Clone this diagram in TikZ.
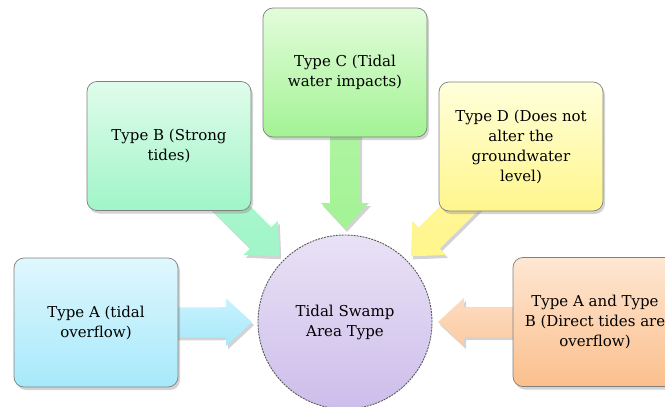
\documentclass[tikz,border=0pt]{standalone}
\usepackage{fontspec}
\setmainfont{DejaVu Serif}
\usetikzlibrary{calc,shadows}
\pgfdeclarelayer{back}
\pgfsetlayers{back,main}

\definecolor{atop}{HTML}{E0F7FD}\definecolor{abot}{HTML}{A6E9FB}
\definecolor{btop}{HTML}{E0FCEB}\definecolor{bbot}{HTML}{A0F5C8}
\definecolor{ctop}{HTML}{E3FCDB}\definecolor{cbot}{HTML}{A3F394}
\definecolor{dtop}{HTML}{FFFFDB}\definecolor{dbot}{HTML}{FFF68C}
\definecolor{etop}{HTML}{FEE7D3}\definecolor{ebot}{HTML}{FBBF8C}
\definecolor{htop}{HTML}{E9E2F5}\definecolor{hbot}{HTML}{CDBDEB}

% block arrow from a box towards the hub, tip stops short of the circle
\newcommand{\fatarrow}[4]{%
  \coordinate (s) at (#1.center);
  \coordinate (t) at ($(#2.center)!93pt!(#1.center)$);
  \coordinate (h) at ($(t)!26pt!(s)$);
  \path[top color=#3,bottom color=#4,softshadow]
    ($(s)!15pt!90:(t)$) -- ($(h)!15pt!90:(t)$) -- ($(h)!24pt!90:(t)$)
    -- (t) -- ($(h)!24pt!-90:(t)$) -- ($(h)!15pt!-90:(t)$)
    -- ($(s)!15pt!-90:(t)$) -- cycle;
}

\begin{document}
\begin{tikzpicture}[x=1pt,y=-1pt,
  every node/.style={align=center,text=black,font=\fontsize{15}{20}\selectfont},
  softshadow/.style={drop shadow={shadow xshift=2pt,shadow yshift=-3pt,opacity=.35}},
  box/.style={draw=black!50,line width=.7pt,rounded corners=10pt,
    minimum width=164pt,minimum height=129pt,inner sep=0pt,softshadow},
  hub/.style={circle,draw=black!65,line width=.9pt,dash pattern=on 2pt off 1pt,
    minimum size=174pt,inner sep=0pt,top color=htop,bottom color=hbot}]
\useasboundingbox (0,0) rectangle (665,407);

\node[box,top color=atop,bottom color=abot] (ta) at (96,322.5) {Type A (tidal\\overflow)};
\node[box,top color=btop,bottom color=bbot] (tb) at (169,146) {Type B (Strong\\tides)};
\node[box,top color=ctop,bottom color=cbot] (tc) at (345,72.5) {Type C (Tidal\\water impacts)};
\node[box,top color=dtop,bottom color=dbot] (td) at (521,146.5) {Type D (Does not\\alter the\\groundwater\\level)};
\node[box,top color=etop,bottom color=ebot] (te) at (595,322) {Type A and Type\\B (Direct tides are\\overflow)};
\node[hub] (swamp) at (345,322) {Tidal Swamp\\Area Type};

\begin{pgfonlayer}{back}
  \fatarrow{ta}{swamp}{abot!60}{abot}
  \fatarrow{tb}{swamp}{bbot!80}{bbot}
  \fatarrow{tc}{swamp}{cbot!80}{cbot}
  \fatarrow{td}{swamp}{dbot!80}{dbot}
  \fatarrow{te}{swamp}{ebot!55}{ebot!80}
\end{pgfonlayer}
\end{tikzpicture}
\end{document}
